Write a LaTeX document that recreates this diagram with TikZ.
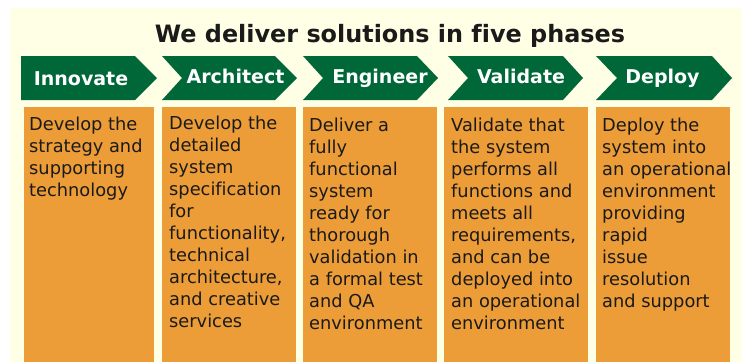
\documentclass[tikz,border=0pt]{standalone}
\usepackage{fontspec}
\setmainfont[Ligatures=NoCommon]{DejaVu Sans}
\definecolor{cream}{RGB}{255,255,229}
\definecolor{pgreen}{RGB}{0,104,56}
\definecolor{porange}{RGB}{237,157,56}
\definecolor{ptext}{RGB}{26,26,26}
\newcommand\mychev[4]{\fill[pgreen] (#1,56) -- (#3,56) -- (#4,78) -- (#3,100) -- (#1,100) -- (#2,78) -- cycle;}
\begin{document}
\begin{tikzpicture}[x=1pt,y=-1pt,
  lab/.style={font=\bfseries\fontsize{19}{22}\selectfont, text=white, anchor=base, inner sep=0},
  col/.style={fill=porange, draw=none, anchor=north west, inner sep=0, minimum height=255pt},
  desc/.style={font=\fontsize{17.8}{22}\selectfont, text=ptext, anchor=base west, inner sep=0},
  ttl/.style={font=\bfseries\fontsize{23.9}{28}\selectfont, text=ptext, anchor=base, inner sep=0}]
\useasboundingbox (0,0) rectangle (745,362);
\fill[white] (0,0) rectangle (745,362);
\fill[cream] (10,8) rectangle (742,362);
\node[ttl] (title) at (390,42.3) {We deliver solutions in five phases};
% chevrons
\mychev{21}{21}{135}{157}
\mychev{162}{182}{275}{297}
\mychev{303}{323}{417}{438}
\mychev{448}{468}{563}{583}
\mychev{596}{617}{712}{732}
\node[lab] (l1) at (81,85) {Innovate};
\node[lab] (l2) at (235.5,83.5) {Architect};
\node[lab] (l3) at (380,83.5) {Engineer};
\node[lab] (l4) at (521,83) {Validate};
\node[lab] (l5) at (662.5,83) {Deploy};
% columns
\node[col, minimum width=130pt] (b1) at (24,107) {};
\node[col, minimum width=134pt] (b2) at (162,107) {};
\node[col, minimum width=134pt] (b3) at (303,107) {};
\node[col, minimum width=144pt] (b4) at (444,107) {};
\node[col, minimum width=134pt] (b5) at (596,107) {};
\node[desc] (d1) at (29,130) {\parbox[t]{160pt}{\raggedright Develop the\\strategy and\\supporting\\technology}};
\node[desc] (d2) at (169,129) {\parbox[t]{160pt}{\raggedright Develop the\\detailed\\system\\specification\\for\\functionality,\\technical\\architecture,\\and creative\\services}};
\node[desc] (d3) at (309,131) {\parbox[t]{160pt}{\raggedright Deliver a\\fully\\functional\\system\\ready for\\thorough\\validation in\\a formal test\\and QA\\environment}};
\node[desc] (d4) at (451,131) {\parbox[t]{160pt}{\raggedright Validate that\\the system\\performs all\\functions and\\meets all\\requirements,\\and can be\\deployed into\\an operational\\environment}};
\node[desc] (d5) at (602,131) {\parbox[t]{160pt}{\raggedright Deploy the\\system into\\an operational\\environment\\providing\\rapid\\issue\\resolution\\and support}};
\end{tikzpicture}
\end{document}
